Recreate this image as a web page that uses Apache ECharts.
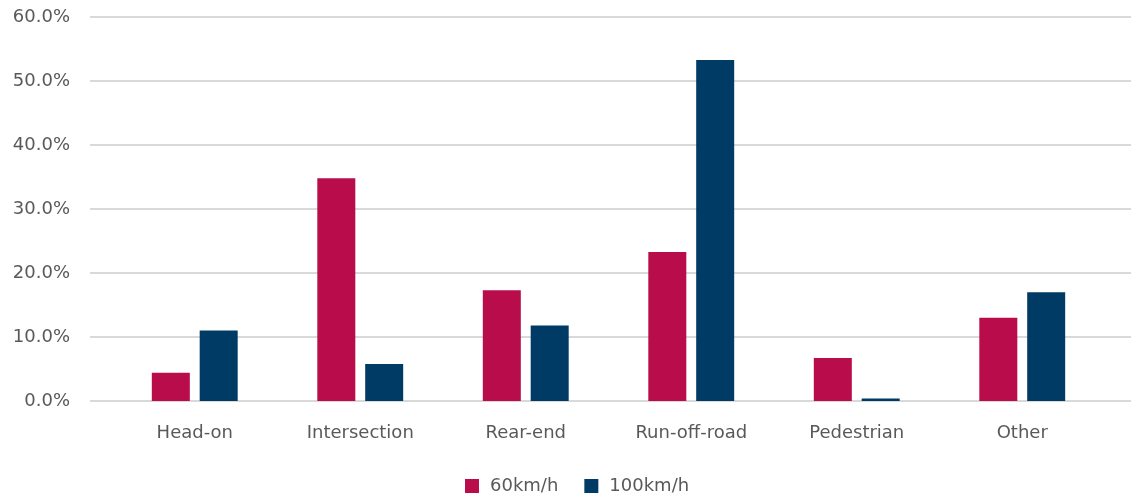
<!DOCTYPE html>
<html>
<head>
<meta charset="utf-8">
<script src="https://cdn.jsdelivr.net/npm/echarts@6/dist/echarts.min.js"></script>
<style>html,body{margin:0;padding:0;background:#fff;}#c{width:1131px;height:500px;}</style>
</head>
<body>
<div id="c"></div>
<script>
const categories = ['Head-on', 'Intersection', 'Rear-end', 'Run-off-road', 'Pedestrian', 'Other'];
const seriesNames = ['60km/h', '100km/h'];
const speed60 = [4.4, 34.8, 17.3, 23.3, 6.7, 13.0];
const speed100 = [11.0, 5.8, 11.8, 53.3, 0.4, 17.0];

const font = '"DejaVu Sans", sans-serif';
const txt = '#595959';
const chart = echarts.init(document.getElementById('c'));
chart.setOption({
  animation: false,
  textStyle: { fontFamily: font },
  grid: [
    { left: 90, right: 0, top: 17, bottom: 99, containLabel: false },
    { left: 112, right: 26, top: 17, bottom: 99, containLabel: false }
  ],
  xAxis: [
    { gridIndex: 0, type: 'value', show: false, min: 0, max: 1 },
    {
      gridIndex: 1, type: 'category', data: categories,
      axisLine: { show: false }, axisTick: { show: false },
      axisLabel: { color: txt, fontSize: 18, margin: 23, fontFamily: font }
    }
  ],
  yAxis: [
    {
      gridIndex: 0, type: 'value', min: 0, max: 60, interval: 10,
      axisLine: { show: false }, axisTick: { show: false },
      splitLine: { lineStyle: { color: '#D9D9D9', width: 2 } },
      axisLabel: { color: txt, fontSize: 18, margin: 20, fontFamily: font,
        formatter: v => v.toFixed(1) + '%' }
    },
    { gridIndex: 1, type: 'value', min: 0, max: 60, interval: 10, show: false }
  ],
  legend: {
    bottom: 0, left: 460, icon: 'rect', itemWidth: 14, itemHeight: 14, itemGap: 26,
    textStyle: { color: txt, fontSize: 18, fontFamily: font, padding: [0, 0, 0, 6] },
    data: seriesNames
  },
  series: [
    { name: seriesNames[0], type: 'bar', xAxisIndex: 1, yAxisIndex: 1, data: speed60,
      barWidth: 38, barGap: '26%', itemStyle: { color: '#B80C4B' } },
    { name: seriesNames[1], type: 'bar', xAxisIndex: 1, yAxisIndex: 1, data: speed100,
      barWidth: 38, barGap: '26%', itemStyle: { color: '#003B66' } }
  ]
});
</script>
</body>
</html>
